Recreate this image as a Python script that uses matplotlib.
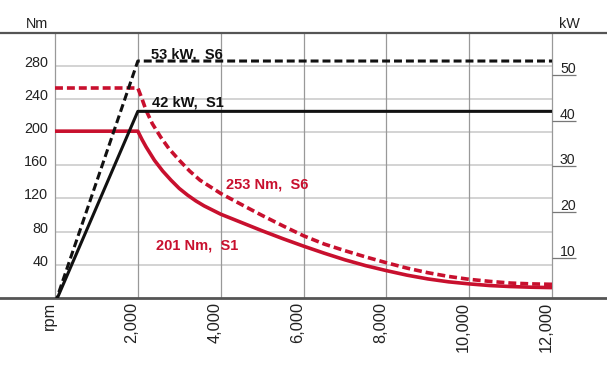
import numpy as np
import matplotlib
matplotlib.use("Agg")
import matplotlib.pyplot as plt

plt.rcParams['font.family'] = ['Liberation Sans', 'DejaVu Sans']

# torque curves (Nm vs rpm)
s1_rpm = [0, 2000, 2100, 2200, 2300, 2400, 2600, 2800, 3000, 3200, 3400, 3600, 3800, 4000,
          4500, 5000, 5500, 6000, 6500, 7000, 7500, 8000, 8500, 9000, 9500, 10000, 10500,
          11000, 11500, 12000]
s1_nm = [201, 201, 191, 182, 174, 166, 153, 142, 132, 124, 117, 111, 106, 101,
         91, 81, 71.5, 62.5, 54, 46, 39, 33, 27.5, 23, 19.5, 17, 15,
         13.8, 13, 12.5]
s6_rpm = [0, 2000, 2100, 2200, 2350, 2550, 2750, 3000, 3250, 3500, 3750, 4000, 4300, 4600,
          5000, 5500, 6000, 6500, 7000, 7500, 8000, 8500, 9000, 9500, 10000, 10500, 11000,
          11500, 12000]
s6_nm = [253, 253, 240, 226, 210, 194, 180, 166, 153, 142, 134, 126, 118, 110,
         99.5, 87, 75, 65, 57, 49.5, 42.5, 36, 30.5, 26, 22.5, 20, 18,
         17, 16.5]

# power curves (kW vs rpm)
p_rpm = [0, 2000, 12000]
p_s1_kw = [0, 42, 42]
p_s6_kw = [0, 53, 53]

x_ticks = [0, 2000, 4000, 6000, 8000, 10000, 12000]
x_labels = ['rpm', '2,000', '4,000', '6,000', '8,000', '10,000', '12,000']
nm_ticks = [40, 80, 120, 160, 200, 240, 280]
kw_ticks = [10, 20, 30, 40, 50]

red = '#c8102e'
black = '#111111'

fig = plt.figure(figsize=(6.07, 3.70), dpi=100)
ax = fig.add_axes([0, (370 - 298) / 370, 1, 265 / 370])
ax2 = ax.twinx()

px_per_rpm = 497 / 12000
ax.set_xlim(-55 / px_per_rpm, 12000 + 55 / px_per_rpm)
ax.set_ylim(0, 265 / 0.83)
ax2.set_ylim((303.5 - 298) / 4.575, (303.5 - 33) / 4.575)

for a in (ax, ax2):
    a.set_xticks([])
    a.set_yticks([])
    for s in ('left', 'right'):
        a.spines[s].set_visible(False)
    a.patch.set_visible(False)
ax2.spines['top'].set_visible(False)
ax2.spines['bottom'].set_visible(False)
ax.spines['top'].set_color('#555555')
ax.spines['top'].set_linewidth(1.6)
ax.spines['bottom'].set_color('#555555')
ax.spines['bottom'].set_linewidth(2)

# grid
ax.hlines(nm_ticks, 0, 12000, color='#c8c8c8', lw=1.1, zorder=1)
ax.vlines(x_ticks, 0, 265 / 0.83, color='#999999', lw=0.9, zorder=1)

# curves
ax.plot(s1_rpm, s1_nm, color=red, lw=2.6, solid_capstyle='butt', solid_joinstyle='round', zorder=3)
ax.plot(s6_rpm, s6_nm, color=red, lw=2.6, dashes=(2.2, 1.1), dash_capstyle='butt', zorder=3)
ax2.plot(p_rpm, p_s1_kw, color=black, lw=2.2, solid_capstyle='butt', zorder=3)
ax2.plot(p_rpm, p_s6_kw, color=black, lw=2.2, dashes=(2.6, 1.3), dash_capstyle='butt', zorder=3)

# left tick labels
for v in nm_ticks:
    ax.text(-7 / px_per_rpm, v - 1.2, str(v), ha='right', va='baseline', fontsize=10.4, color='#222222')

# right kW ticks and labels
ax2.hlines(kw_ticks, 12000, 12000 + 24 / px_per_rpm, color='#777777', lw=0.9, clip_on=False)
for v in kw_ticks:
    ax2.text(12000 + 8 / px_per_rpm, v + 0.4, str(v), ha='left', va='baseline', fontsize=10.2, color='#222222')

# x labels
for xv, lab in zip(x_ticks, x_labels):
    ax.text(xv - 1.5 / px_per_rpm, -4 / 0.83, lab, rotation=90, rotation_mode='anchor',
            ha='right', va='baseline', fontsize=11.8, color='#222222', clip_on=False)

fig.text(48 / 607, 1 - 28 / 370, 'Nm', ha='right', va='baseline', fontsize=10.4, color='#222222')
fig.text(559 / 607, 1 - 28 / 370, 'kW', ha='left', va='baseline', fontsize=10.4, color='#222222')

# annotations
ax.text(2318, 289, '53 kW,  S6', fontsize=10.5, fontweight='bold', color=black, va='baseline')
ax.text(2342, 231, '42 kW,  S1', fontsize=10.5, fontweight='bold', color=black, va='baseline')
ax.text(4129, 132.5, '253 Nm,  S6', fontsize=10.5, fontweight='bold', color=red, va='baseline')
ax.text(2439, 59, '201 Nm,  S1', fontsize=10.5, fontweight='bold', color=red, va='baseline')

fig.savefig('out.png', dpi=100)
